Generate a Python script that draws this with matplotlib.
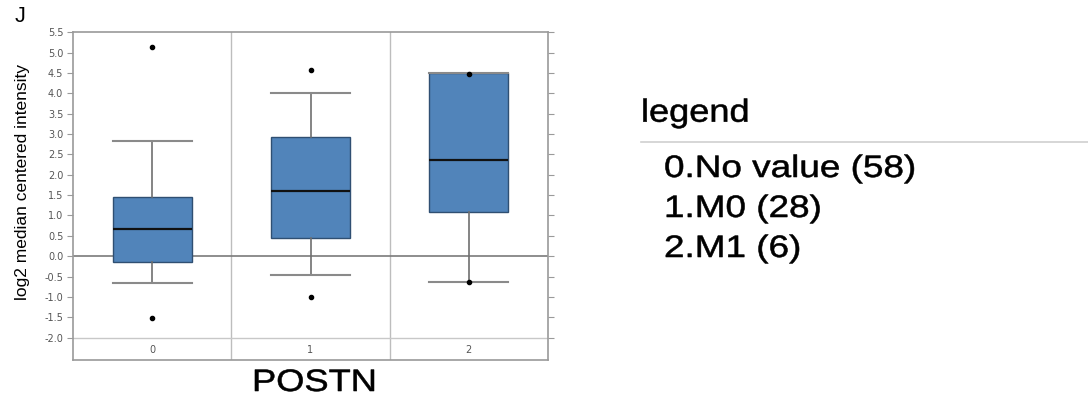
import matplotlib
matplotlib.use('Agg')
import matplotlib.pyplot as plt
import numpy as np
from matplotlib.textpath import TextPath
from matplotlib.patches import PathPatch
from matplotlib.font_manager import FontProperties
from matplotlib.transforms import Affine2D

# box statistics per POSTN group
groups = ['0', '1', '2']
whisker_low = [-0.66, -0.46, -0.63]
q1 = [-0.14, 0.45, 1.08]
medians = [0.66, 1.61, 2.37]
q3 = [1.46, 2.92, 4.49]
whisker_high = [2.83, 4.02, 4.49]
outliers = [[5.15, -1.51], [4.57, -1.0], [4.47, -0.63]]

legend_title = 'legend'
legend_items = ['0.No value (58)', '1.M0 (28)', '2.M1 (6)']

box_color = '#5184ba'
frame_color = '#9a9a9a'

W, H = 1088, 399
fig = plt.figure(figsize=(W / 100, H / 100), dpi=100)
sans = FontProperties(family='Liberation Sans')


def wide_text(x, y, s, size, sx=1.2):
    # text drawn as a path so it can be widened; x, y are pixels from the
    # top-left corner, y is the baseline
    tp = TextPath((0, 0), s, size=size, prop=sans)
    tr = (Affine2D().scale(sx, 1.0).translate(x, H - y).scale(1 / fig.dpi)
          + fig.dpi_scale_trans)
    fig.add_artist(PathPatch(tp, transform=tr, facecolor='black',
                             edgecolor='black', linewidth=0.4))


ax = fig.add_axes([73 / W, 39 / H, 475 / W, 327.7 / H])

stats = []
for i, g in enumerate(groups):
    stats.append(dict(label=g, whislo=whisker_low[i], q1=q1[i], med=medians[i],
                      q3=q3[i], whishi=whisker_high[i], fliers=outliers[i]))

pos = np.arange(len(groups))
ax.bxp(stats, positions=pos, widths=0.5, patch_artist=True,
       boxprops=dict(facecolor=box_color, edgecolor='#2f4f72', linewidth=1.0),
       medianprops=dict(color='#111111', linewidth=1.6),
       whiskerprops=dict(color='#6f6f6f', linewidth=1.2),
       capprops=dict(color='#8a8a8a', linewidth=1.5),
       capwidths=0.5,
       flierprops=dict(marker='o', markersize=3, markerfacecolor='black',
                       markeredgecolor='black'))

ax.set_xlim(-0.5, len(groups) - 0.5)
ax.set_ylim(-2.55, 5.5)

# category separators and reference lines
for x in pos[:-1] + 0.5:
    ax.axvline(x, color='#bdbdbd', linewidth=1.0, zorder=0)
ax.axhline(0.0, color='#7a7a7a', linewidth=1.2, zorder=0)
ax.axhline(-2.0, color='#c8c8c8', linewidth=1.0, zorder=0)

ticks = np.arange(-2.0, 5.51, 0.5)
ax.set_yticks(ticks)
ax.set_yticklabels(['%.1f' % t for t in ticks], fontsize=7, color='#555555')
ax.tick_params(axis='y', direction='out', length=4, color=frame_color,
               right=True, pad=3)
ax.set_xticks([])
for i, g in enumerate(groups):
    ax.text(i, -2.3, g, ha='center', va='center', fontsize=7, color='#555555')

for s in ax.spines.values():
    s.set_color(frame_color)
    s.set_linewidth(1.2)

fig.text(22.5 / W, 1 - 182 / H, 'log2 median centered intensity', fontsize=12.5,
         family='Liberation Sans', rotation=90, ha='center', va='center')

fig.text(15 / W, 1 - 22 / H, 'J', fontsize=15.5, family='Liberation Sans',
         va='baseline', ha='left')
wide_text(252, 391, 'POSTN', 31, sx=1.17)

# legend block on the right
wide_text(641, 121.7, legend_title, 32, sx=1.13)
fig.add_artist(plt.Line2D([641 / W, 1.0], [1 - 142 / H, 1 - 142 / H],
                          color='#d0d0d0', linewidth=1.2))
for k, item in enumerate(legend_items):
    wide_text(664, 177 + 40 * k, item, 31, sx=1.19)

fig.savefig('out.png', dpi=100)
